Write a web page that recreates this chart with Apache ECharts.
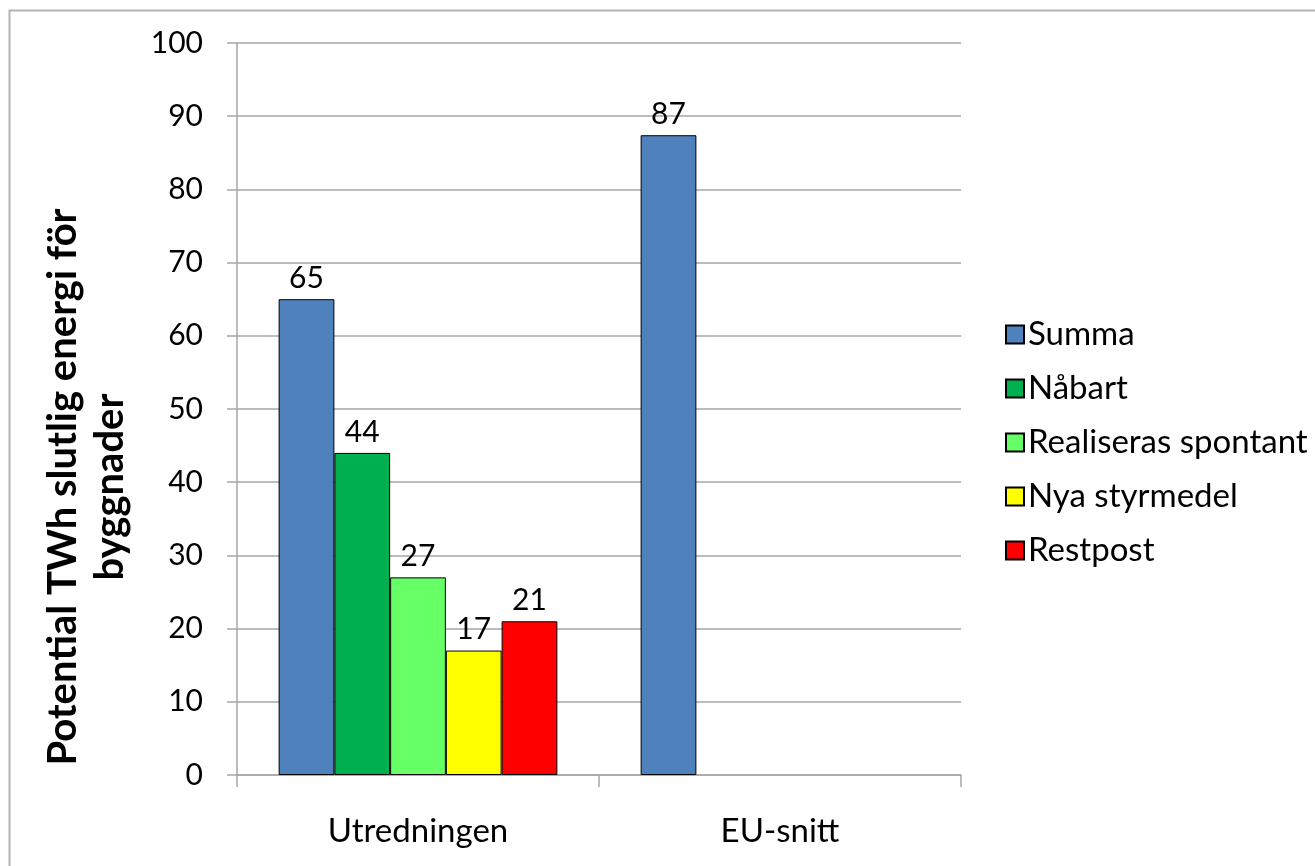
<!DOCTYPE html>
<html>
<head>
<meta charset="utf-8">
<script src="https://cdn.jsdelivr.net/npm/echarts@6/dist/echarts.min.js"></script>
<style>
  html, body { margin: 0; padding: 0; background: #fff; }
  #chart { width: 1315px; height: 866px; }
</style>
</head>
<body>
<div id="chart"></div>
<script>
// data
const categories = ["Utredningen", "EU-snitt"];
const seriesNames = ["Summa", "Nåbart", "Realiseras spontant", "Nya styrmedel", "Restpost"];
const summa = [65, 87.4];
const nabart = [44, null];
const spontant = [27, null];
const styrmedel = [17, null];
const restpost = [21, null];
const seriesColors = ["#4F81BD", "#00B050", "#66FF66", "#FFFF00", "#FF0000"];
const yTicks = [0, 100, 10]; // min, max, step

const font = "Lato, 'Open Sans', sans-serif";
const values = [summa, nabart, spontant, styrmedel, restpost];

const chart = echarts.init(document.getElementById("chart"));

const option = {
  backgroundColor: "#fff",
  animation: false,
  textStyle: { fontFamily: font },
  graphic: [
    {
      // outer frame of the chart
      type: "rect",
      shape: { x: 9.5, y: 10.5, width: 1400, height: 900 },
      style: { fill: "none", stroke: "#b3b3b3", lineWidth: 2 },
      silent: true
    },
    {
      type: "text",
      x: 87,
      y: 487,
      rotation: Math.PI / 2,
      style: {
        text: "Potential TWh slutlig energi för\nbyggnader",
        font: "bold 40px " + font,
        fill: "#000",
        align: "center",
        verticalAlign: "middle",
        lineHeight: 47
      }
    }
  ],
  legend: {
    orient: "vertical",
    left: 1000,
    top: 313,
    itemWidth: 18,
    itemHeight: 18,
    itemGap: 21,
    icon: "rect",
    data: seriesNames,
    textStyle: { fontSize: 33, color: "#000", lineHeight: 33, padding: [0, 0, 0, -1] }
  },
  grid: {
    left: 237,
    right: 354,
    top: 43,
    bottom: 91,
    containLabel: false
  },
  xAxis: {
    type: "category",
    data: categories,
    axisLine: { lineStyle: { color: "#a6a6a6", width: 1.5 } },
    axisTick: { show: true, length: 12, lineStyle: { color: "#a6a6a6", width: 1.5 } },
    axisLabel: { fontSize: 33, color: "#000", margin: 40 }
  },
  yAxis: {
    type: "value",
    min: yTicks[0],
    max: yTicks[1],
    interval: yTicks[2],
    axisLine: { show: true, lineStyle: { color: "#a6a6a6", width: 1.5 } },
    axisTick: { show: true, length: 10, lineStyle: { color: "#a6a6a6", width: 1.5 } },
    axisLabel: { fontSize: 30, color: "#000", margin: 34 },
    splitLine: { lineStyle: { color: "#a6a6a6", width: 1.5 } }
  },
  series: seriesNames.map((name, i) => ({
    name: name,
    type: "bar",
    data: values[i],
    barGap: "0%",
    barCategoryGap: "23%",
    itemStyle: { color: seriesColors[i], borderColor: "#000", borderWidth: 1 },
    label: {
      show: true,
      position: "top",
      distance: 6,
      fontSize: 30,
      color: "#000",
      formatter: (p) => Math.round(p.value)
    }
  }))
};

chart.setOption(option);
</script>
</body>
</html>
